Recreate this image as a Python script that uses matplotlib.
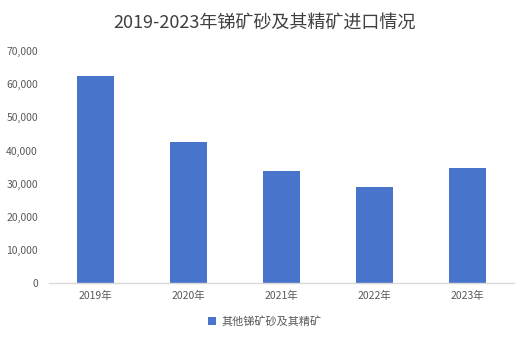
import matplotlib
matplotlib.use("Agg")
import matplotlib.pyplot as plt
from matplotlib.ticker import FuncFormatter, MultipleLocator

plt.rcParams['font.family'] = ['Noto Sans CJK SC', 'DejaVu Sans']

# 锑矿砂及其精矿进口量
years = ['2019年', '2020年', '2021年', '2022年', '2023年']
imports = [62600, 42700, 33800, 29000, 34800]
series_name = '其他锑矿砂及其精矿'
title = '2019-2023年锑矿砂及其精矿进口情况'

bar_color = '#4874CB'
text_color = '#595959'

fig = plt.figure(figsize=(5.30, 3.41), dpi=100)
ax = fig.add_axes([0.0925, 0.170, 0.8775, 0.680])

x = range(len(years))
ax.bar(x, imports, width=0.4, color=bar_color, label=series_name, zorder=2)

ax.set_xlim(-0.5, len(years) - 0.5)
ax.set_ylim(0, 70000)
ax.yaxis.set_major_locator(MultipleLocator(10000))
ax.yaxis.set_major_formatter(FuncFormatter(lambda v, p: f'{int(v):,}'))
ax.set_xticks(list(x))
ax.set_xticklabels(years)

for side in ['top', 'right', 'left']:
    ax.spines[side].set_visible(False)
ax.spines['bottom'].set_color('#D9D9D9')
ax.spines['bottom'].set_linewidth(1.0)
ax.tick_params(axis='both', length=0, labelsize=7.5, colors=text_color)
ax.tick_params(axis='x', pad=6)
ax.tick_params(axis='y', pad=8)

fig.suptitle(title, x=0.5, y=0.96, fontsize=13, color='#404040')

fig.legend(loc='center', bbox_to_anchor=(0.5, 0.058), frameon=False,
           fontsize=8, handlelength=0.7, handleheight=0.7, handletextpad=0.5,
           labelcolor=text_color)

fig.savefig('out.png', dpi=100, facecolor='white')
